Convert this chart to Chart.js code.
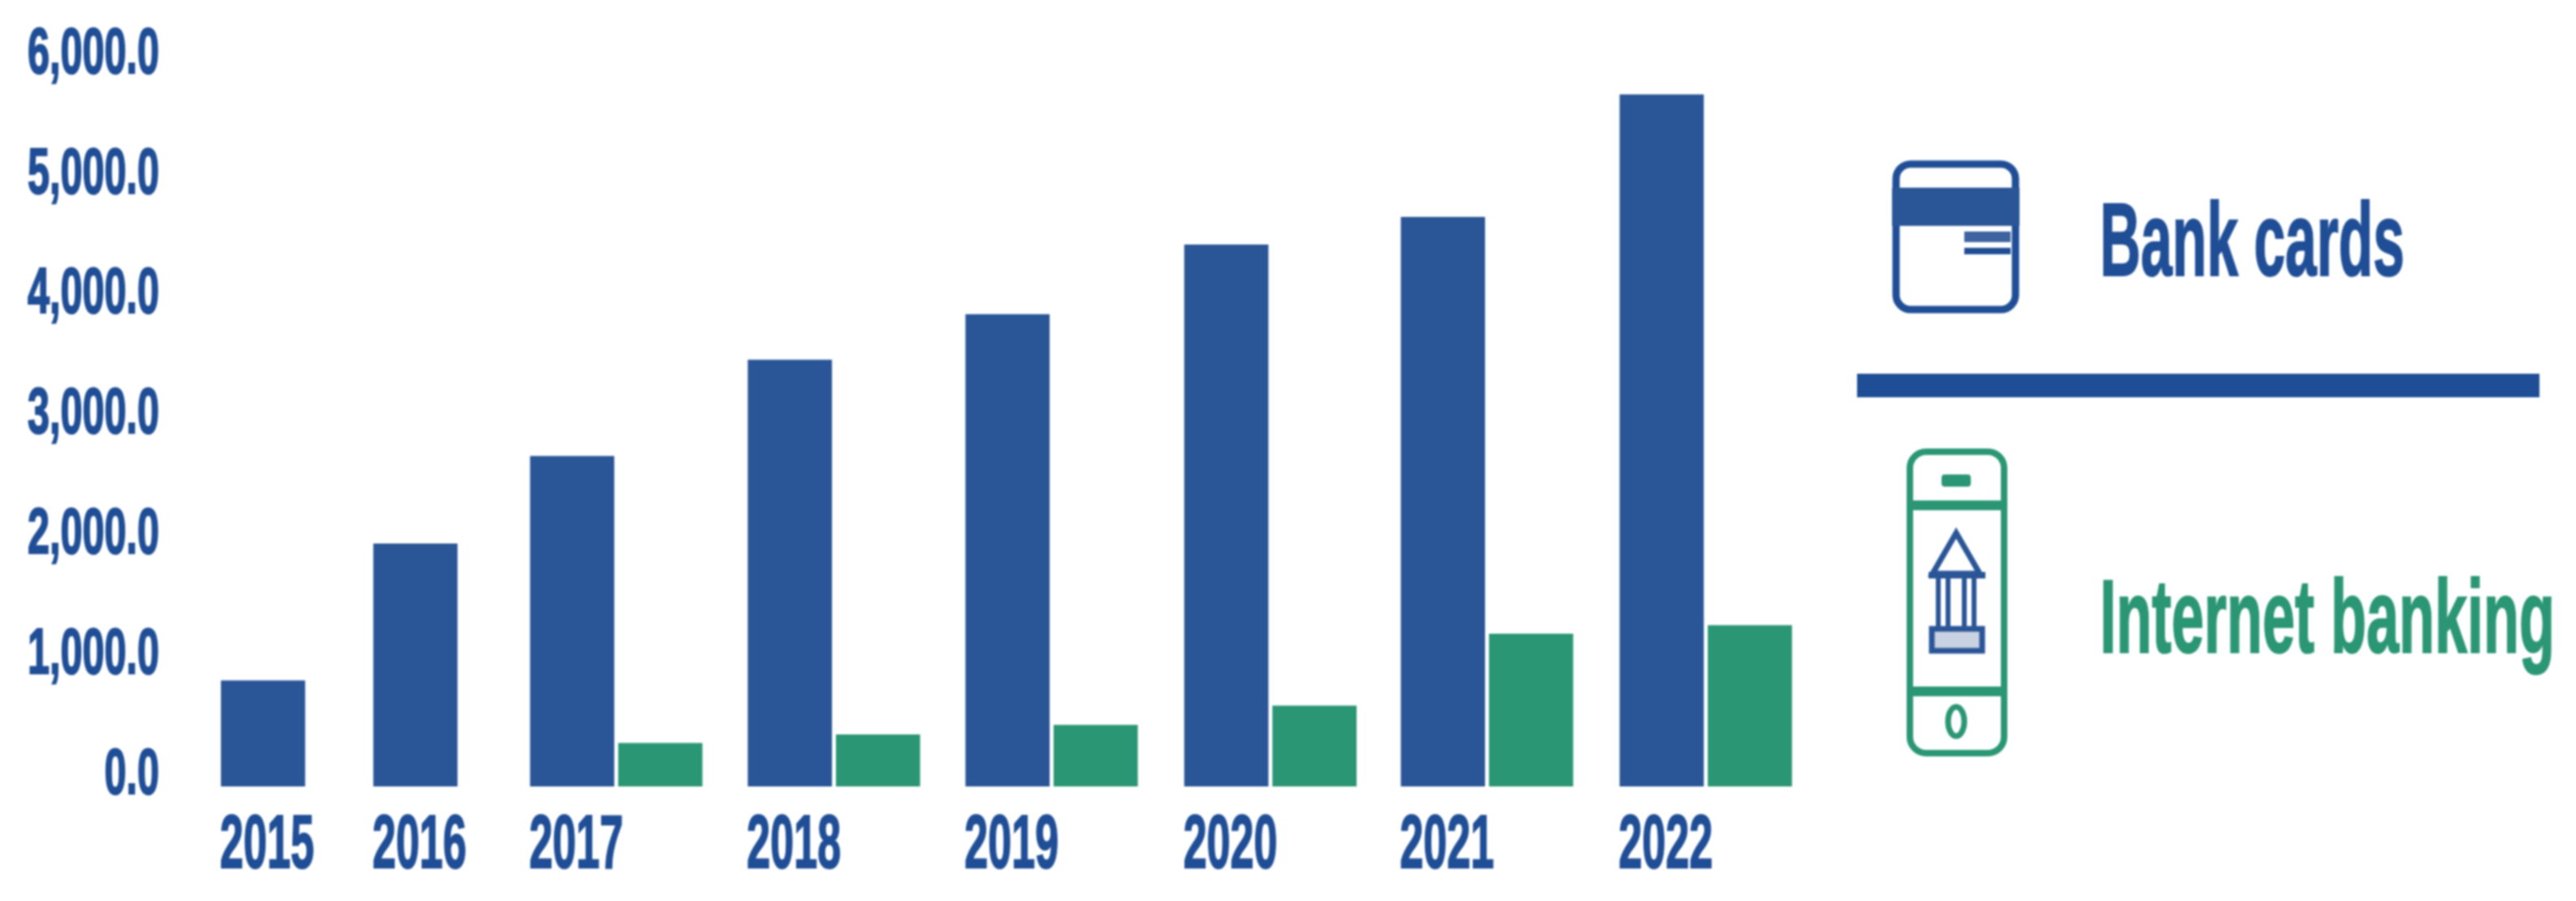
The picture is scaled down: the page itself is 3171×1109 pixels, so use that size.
<!DOCTYPE html>
<html lang="en">
  <head>
    <meta charset="UTF-8" />
    <title>Bank cards and Internet banking</title>
    <script src="https://cdn.jsdelivr.net/npm/chart.js"></script>
    <style>
      html, body {
        margin: 0;
        background-color: #fff;
      }
      #wrap {
        position: relative;
        width: 3171px;
        height: 1109px;
        overflow: hidden;
      }
      #chart, #legend {
        position: absolute;
        left: 0;
        top: 0;
      }
      #chart {
        filter: blur(1px);
      }
      #legend {
        filter: blur(1px);
      }
      #legend text {
        font-family: "Liberation Sans", sans-serif;
        font-weight: 700;
        font-size: 128px;
        stroke-width: 2px;
      }
    </style>
  </head>
  <body>
    <div id="wrap">
      <canvas id="chart" width="3171" height="1109"></canvas>
      <svg id="legend" width="3171" height="1109" viewBox="0 0 3171 1109">
        <!-- Bank card icon -->
        <rect x="2334" y="202" width="147" height="179" rx="18" fill="none" stroke="#1f4e96" stroke-width="9" />
        <rect x="2329" y="231" width="157" height="47" fill="#2a5597" />
        <rect x="2418" y="285" width="57" height="13" fill="#3d63a0" />
        <rect x="2418" y="305" width="57" height="8" fill="#1f4e96" />
        <text x="2585" y="339" textLength="375" lengthAdjust="spacingAndGlyphs" fill="#1f4e96" stroke="#1f4e96">Bank cards</text>

        <rect x="2286" y="460" width="840" height="29" fill="#1f4e96" />

        <!-- Phone with bank icon -->
        <rect x="2351" y="556" width="116" height="371" rx="20" fill="none" stroke="#2a9673" stroke-width="8" />
        <rect x="2351" y="616" width="116" height="12" fill="#2a9673" />
        <rect x="2351" y="845" width="116" height="12" fill="#2a9673" />
        <rect x="2390" y="584" width="36" height="15" rx="4" fill="#2a9673" />
        <ellipse cx="2408" cy="888" rx="10" ry="18" fill="none" stroke="#2a9673" stroke-width="7" />
        <path d="M2408 656 L2379 706 L2437 706 Z" fill="none" stroke="#2a5597" stroke-width="7" />
        <rect x="2374" y="704" width="70" height="8" fill="#2a5597" />
        <path d="M2386 712 V772 M2398 712 V772 M2418 712 V772 M2430 712 V772" stroke="#2a5597" stroke-width="6" fill="none" />
        <rect x="2378" y="774" width="62" height="27" fill="#c9d2e2" stroke="#2a5597" stroke-width="7" />
        <text x="2585" y="803" textLength="560" lengthAdjust="spacingAndGlyphs" fill="#2a9673" stroke="#2a9673">Internet banking</text>
      </svg>
    </div>

    <script>
      const years = ["2015", "2016", "2017", "2018", "2019", "2020", "2021", "2022"];
      const bankCards = [880, 2020, 2750, 3550, 3930, 4510, 4740, 5760];
      const internetBanking = [null, null, 360, 430, 510, 670, 1270, 1340];
      const yTickLabels = ["0.0", "1,000.0", "2,000.0", "3,000.0", "4,000.0", "5,000.0", "6,000.0"];

      // layout only: the years are not evenly spaced in the original
      const yearSlots = [0, 7, 14.2, 24.2, 34.2, 44.25, 54.2, 64.25];
      const greenShift = 4.05;

      // the original type is condensed, so squeeze the tick text around its anchor
      function squeezeLabels(scale, k) {
        const draw = scale.drawLabels;
        scale.drawLabels = function (area) {
          const ctx = this.ctx;
          const fill = ctx.fillText;
          ctx.fillText = function (text, x, y, maxW) {
            ctx.save();
            ctx.scale(k, 1);
            fill.call(ctx, text, x, y, maxW);
            ctx.lineWidth = 2;
            ctx.strokeStyle = ctx.fillStyle;
            ctx.strokeText(text, x, y, maxW);
            ctx.restore();
          };
          draw.call(this, area);
          delete ctx.fillText;
        };
      }

      const tickFont = '"Liberation Sans", sans-serif';

      new Chart(document.getElementById("chart"), {
        type: "bar",
        data: {
          datasets: [
            {
              label: "Bank cards",
              data: years.map((year, i) => ({ x: yearSlots[i], y: bankCards[i] })),
              backgroundColor: "#2a5597",
              barThickness: 103,
              grouped: false,
            },
            {
              label: "Internet banking",
              data: years.map((year, i) => ({ x: yearSlots[i] + greenShift, y: internetBanking[i] })),
              backgroundColor: "#2a9673",
              barThickness: 103,
              grouped: false,
            },
          ],
        },
        plugins: [
          {
            id: "condensedTicks",
            beforeDraw(chart) {
              if (chart.$squeezed) return;
              chart.$squeezed = true;
              squeezeLabels(chart.scales.x, 0.56);
              squeezeLabels(chart.scales.y, 0.615);
            },
          },
        ],
        options: {
          responsive: false,
          animation: false,
          layout: {
            padding: { top: 81, right: 891, bottom: 0, left: 0 },
          },
          plugins: {
            legend: { display: false },
            tooltip: { enabled: false },
          },
          scales: {
            x: {
              type: "linear",
              offset: false,
              min: -3.5,
              max: 73,
              grid: { display: false },
              border: { display: false },
              afterBuildTicks(axis) {
                axis.ticks = yearSlots.map((slot) => ({ value: slot }));
              },
              afterFit(axis) {
                axis.height = 141;
              },
              ticks: {
                autoSkip: false,
                maxRotation: 0,
                minRotation: 0,
                padding: 11,
                labelOffset: 5,
                color: "#1f4e96",
                font: { family: tickFont, weight: "bold", size: 93 },
                callback: (value, index) => years[index],
              },
            },
            y: {
              min: 0,
              max: 6000,
              grid: { display: false },
              border: { display: false },
              afterFit(axis) {
                axis.width = 230;
              },
              ticks: {
                stepSize: 1000,
                padding: 26,
                labelOffset: -13,
                color: "#1f4e96",
                font: { family: tickFont, weight: "bold", size: 79 },
                callback: (value, index) => yTickLabels[index],
              },
            },
          },
        },
      });
    </script>
  </body>
</html>
